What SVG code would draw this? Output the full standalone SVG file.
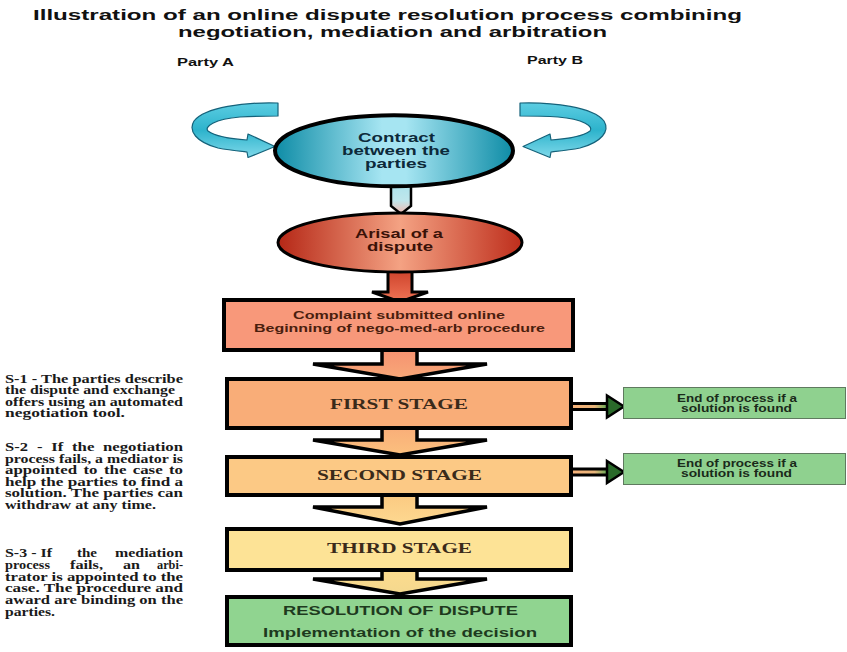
<svg xmlns="http://www.w3.org/2000/svg" width="847" height="652" viewBox="0 0 847 652">
<defs>
<style>
.title{font-family:"Liberation Sans",Arial,sans-serif;font-weight:bold;font-size:15.5px;fill:#111}
.party{font-family:"Liberation Sans",Arial,sans-serif;font-weight:bold;font-size:10.5px;fill:#111}
.sans{font-family:"Liberation Sans",Arial,sans-serif;font-weight:bold}
.serif{font-family:"Liberation Serif","Times New Roman",serif;font-weight:bold}
.note{font-family:"Liberation Serif","Times New Roman",serif;font-weight:bold;font-size:11.5px;fill:#1a1a1a}
.box{stroke:#000;stroke-width:4}
.blk{stroke:#000;stroke-width:3.5;stroke-linejoin:miter}
.endbox{fill:#8FD18F;stroke:#5f7a5f;stroke-width:1}
.curl{fill:url(#curlG);stroke:#15627a;stroke-width:1.2;stroke-linejoin:round}
</style>
<linearGradient id="contractG" x1="0" y1="0" x2="1" y2="0">
<stop offset="0" stop-color="#0E8CA6"/><stop offset="0.45" stop-color="#A6E5F2"/><stop offset="0.55" stop-color="#A6E5F2"/><stop offset="1" stop-color="#0E8CA6"/>
</linearGradient>
<linearGradient id="disputeG" x1="0" y1="0" x2="1" y2="0">
<stop offset="0" stop-color="#B52716"/><stop offset="0.5" stop-color="#F4A283"/><stop offset="1" stop-color="#BE2E1C"/>
</linearGradient>
<linearGradient id="curlG" x1="0" y1="0" x2="0" y2="1">
<stop offset="0" stop-color="#5CCDE2"/><stop offset="0.5" stop-color="#2DB3CC"/><stop offset="1" stop-color="#7FD9EA"/>
</linearGradient>
<linearGradient id="c1G" x1="0" y1="0" x2="0" y2="1">
<stop offset="0" stop-color="#A8E2EC"/><stop offset="0.6" stop-color="#BFE6EC"/><stop offset="1" stop-color="#F4B8AE"/>
</linearGradient>
<linearGradient id="c2G" x1="0" y1="0" x2="0" y2="1">
<stop offset="0" stop-color="#C83A24"/><stop offset="1" stop-color="#F07456"/>
</linearGradient>
<linearGradient id="a1G" x1="0" y1="0" x2="0" y2="1">
<stop offset="0" stop-color="#F59070"/><stop offset="1" stop-color="#F8A878"/>
</linearGradient>
<linearGradient id="a2G" x1="0" y1="0" x2="0" y2="1">
<stop offset="0" stop-color="#F9AC78"/><stop offset="1" stop-color="#FBC07E"/>
</linearGradient>
<linearGradient id="a3G" x1="0" y1="0" x2="0" y2="1">
<stop offset="0" stop-color="#FBC880"/><stop offset="1" stop-color="#FDD890"/>
</linearGradient>
<linearGradient id="a4G" x1="0" y1="0" x2="0" y2="1">
<stop offset="0" stop-color="#FDDC8E"/><stop offset="1" stop-color="#F4D88E"/>
</linearGradient>
<linearGradient id="sideG" x1="0" y1="0" x2="1" y2="0">
<stop offset="0" stop-color="#F6B27A"/><stop offset="0.6" stop-color="#E8B47A"/><stop offset="1" stop-color="#4FA84F"/>
</linearGradient>
</defs>
<rect width="847" height="652" fill="#fff"/>

<g id="title">
<text class="title" x="33" y="20" textLength="709" lengthAdjust="spacingAndGlyphs">Illustration of an online dispute resolution process combining</text>
<text class="title" x="178" y="36.5" textLength="429" lengthAdjust="spacingAndGlyphs">negotiation, mediation and arbitration</text>
</g>
<g id="partyA"><text class="party" x="177" y="66" textLength="57" lengthAdjust="spacingAndGlyphs">Party A</text></g>
<g id="partyB"><text class="party" x="527" y="64" textLength="56" lengthAdjust="spacingAndGlyphs">Party B</text></g>

<g id="connectors">
<path id="curlA" class="curl" d="M278,103 C245,102 205,107 194,121 C188,131 196,142 218,148 C228,150 238,151 247,152 L248,157.5 L275,146.5 L248,134 L247,140 C232,139 215,136 208,131 C204,127 214,119 240,117 C255,116 268,116 278,116 Z"/>
<path id="curlB" class="curl" transform="translate(798,0) scale(-1,1)" d="M278,103 C245,102 205,107 194,121 C188,131 196,142 218,148 C228,150 238,151 247,152 L248,157.5 L275,146.5 L248,134 L247,140 C232,139 215,136 208,131 C204,127 214,119 240,117 C255,116 268,116 278,116 Z"/>
<polygon points="391,180 411,180 411,206 401,214 391,206" fill="url(#c1G)" stroke="#000" stroke-width="2.5"/>
<polygon points="388,265 412,265 412,292 428,292 400,302 372,292 388,292" fill="url(#c2G)" stroke="#000" stroke-width="3"/>
<path class="blk" fill="url(#a1G)" d="M382,347 H417 V364 H487 L400,379 L313,364 H382 Z"/>
<path class="blk" fill="url(#a2G)" d="M382,425 H417 V440 H487 L400,455 L313,440 H382 Z"/>
<path class="blk" fill="url(#a3G)" d="M382,492 H417 V507 H487 L400,524 L313,507 H382 Z"/>
<path class="blk" fill="url(#a4G)" d="M382,567 H417 V579 H487 L400,594 L313,579 H382 Z"/>
<rect x="573" y="402" width="36" height="9" fill="#000"/>
<rect x="573" y="405" width="36" height="3" fill="url(#sideG)"/>
<polygon points="607,395.5 624,406.5 607,417.5" fill="#2a6a2a" stroke="#000" stroke-width="2.5" stroke-linejoin="miter"/>
<rect x="573" y="467.5" width="36" height="9" fill="#000"/>
<rect x="573" y="470.5" width="36" height="3" fill="url(#sideG)"/>
<polygon points="607,461 624,472 607,483" fill="#2a6a2a" stroke="#000" stroke-width="2.5" stroke-linejoin="miter"/>
</g>

<g id="contract">
<ellipse cx="394" cy="150.8" rx="119" ry="35.5" fill="url(#contractG)" stroke="#000" stroke-width="4"/>
<text class="sans" font-size="12.5" fill="#0d2a3a" x="358" y="142" textLength="77" lengthAdjust="spacingAndGlyphs">Contract</text>
<text class="sans" font-size="12.5" fill="#0d2a3a" x="342" y="155" textLength="108" lengthAdjust="spacingAndGlyphs">between the</text>
<text class="sans" font-size="12.5" fill="#0d2a3a" x="365" y="167.5" textLength="62" lengthAdjust="spacingAndGlyphs">parties</text>
</g>

<g id="dispute">
<ellipse cx="400" cy="242.5" rx="122" ry="29.5" fill="url(#disputeG)" stroke="#000" stroke-width="3"/>
<text class="sans" font-size="12" fill="#3a1208" x="355" y="237.5" textLength="88" lengthAdjust="spacingAndGlyphs">Arisal of a</text>
<text class="sans" font-size="12" fill="#3a1208" x="367" y="251" textLength="66" lengthAdjust="spacingAndGlyphs">dispute</text>
</g>

<g id="complaint">
<rect class="box" x="224" y="300" width="349" height="50" fill="#F8987A"/>
<text class="sans" font-size="11" fill="#4a1e0e" x="293" y="319" textLength="212" lengthAdjust="spacingAndGlyphs">Complaint submitted online</text>
<text class="sans" font-size="11" fill="#4a1e0e" x="254" y="331.5" textLength="291" lengthAdjust="spacingAndGlyphs">Beginning of nego-med-arb procedure</text>
</g>

<g id="stage1">
<rect class="box" x="227" y="379" width="344" height="49" fill="#F9AD78"/>
<text class="serif" font-size="14" fill="#3a2a1a" x="330" y="409" textLength="138" lengthAdjust="spacingAndGlyphs">FIRST STAGE</text>
</g>
<g id="stage2">
<rect class="box" x="227" y="457" width="344" height="38" fill="#FCC985"/>
<text class="serif" font-size="14" fill="#3a2a1a" x="317" y="480" textLength="165" lengthAdjust="spacingAndGlyphs">SECOND STAGE</text>
</g>
<g id="stage3">
<rect class="box" x="227" y="529" width="344" height="41" fill="#FDE396"/>
<text class="serif" font-size="14" fill="#3a2a1a" x="327" y="553" textLength="145" lengthAdjust="spacingAndGlyphs">THIRD STAGE</text>
</g>
<g id="resolution">
<rect class="box" x="227" y="597" width="344" height="48" fill="#90D490"/>
<text class="sans" font-size="12" fill="#1e3a1e" x="283" y="615" textLength="235" lengthAdjust="spacingAndGlyphs">RESOLUTION OF DISPUTE</text>
<text class="sans" font-size="12" fill="#1e3a1e" x="263" y="637" textLength="274" lengthAdjust="spacingAndGlyphs">Implementation of the decision</text>
</g>

<g id="end1">
<rect class="endbox" x="623.5" y="387.5" width="222" height="31"/>
<text class="sans" font-size="10" fill="#1a2a1a" x="677" y="402" textLength="120" lengthAdjust="spacingAndGlyphs">End of process if a</text>
<text class="sans" font-size="10" fill="#1a2a1a" x="681" y="412" textLength="111" lengthAdjust="spacingAndGlyphs">solution is found</text>
</g>
<g id="end2">
<rect class="endbox" x="623.5" y="453.5" width="222" height="31"/>
<text class="sans" font-size="10" fill="#1a2a1a" x="677" y="467" textLength="120" lengthAdjust="spacingAndGlyphs">End of process if a</text>
<text class="sans" font-size="10" fill="#1a2a1a" x="681" y="477" textLength="111" lengthAdjust="spacingAndGlyphs">solution is found</text>
</g>

<g id="note1">
<text class="note" x="5" y="383" textLength="178" lengthAdjust="spacingAndGlyphs">S-1 - The parties describe</text>
<text class="note" x="5" y="394.3" textLength="170" lengthAdjust="spacingAndGlyphs">the dispute and exchange</text>
<text class="note" x="5" y="405.7" textLength="178" lengthAdjust="spacingAndGlyphs">offers using an automated</text>
<text class="note" x="5" y="417" textLength="120" lengthAdjust="spacingAndGlyphs">negotiation tool.</text>
</g>
<g id="note2">
<text class="note" x="5" y="451" textLength="23" lengthAdjust="spacingAndGlyphs">S-2</text>
<text class="note" x="36.9" y="451" textLength="5.6" lengthAdjust="spacingAndGlyphs">-</text>
<text class="note" x="51.2" y="451" textLength="12" lengthAdjust="spacingAndGlyphs">If</text>
<text class="note" x="72" y="451" textLength="22.4" lengthAdjust="spacingAndGlyphs">the</text>
<text class="note" x="103" y="451" textLength="80" lengthAdjust="spacingAndGlyphs">negotiation</text>
<text class="note" x="5" y="462.6" textLength="178" lengthAdjust="spacingAndGlyphs">process fails, a mediator is</text>
<text class="note" x="5" y="474.2" textLength="72" lengthAdjust="spacingAndGlyphs">appointed</text>
<text class="note" x="83.4" y="474.2" textLength="14" lengthAdjust="spacingAndGlyphs">to</text>
<text class="note" x="104" y="474.2" textLength="22.4" lengthAdjust="spacingAndGlyphs">the</text>
<text class="note" x="132.7" y="474.2" textLength="30" lengthAdjust="spacingAndGlyphs">case</text>
<text class="note" x="169" y="474.2" textLength="14" lengthAdjust="spacingAndGlyphs">to</text>
<text class="note" x="5" y="485.8" textLength="178" lengthAdjust="spacingAndGlyphs">help the parties to find a</text>
<text class="note" x="5" y="497.4" textLength="178" lengthAdjust="spacingAndGlyphs">solution. The parties can</text>
<text class="note" x="5" y="509" textLength="151" lengthAdjust="spacingAndGlyphs">withdraw at any time.</text>
</g>
<g id="note3">
<text class="note" x="5" y="557" textLength="47" lengthAdjust="spacingAndGlyphs">S-3 - If</text>
<text class="note" x="77" y="557" textLength="20" lengthAdjust="spacingAndGlyphs">the</text>
<text class="note" x="115" y="557" textLength="68" lengthAdjust="spacingAndGlyphs">mediation</text>
<text class="note" x="5" y="568.8" textLength="45" lengthAdjust="spacingAndGlyphs">process</text>
<text class="note" x="70" y="568.8" textLength="33" lengthAdjust="spacingAndGlyphs">fails,</text>
<text class="note" x="123" y="568.8" textLength="17" lengthAdjust="spacingAndGlyphs">an</text>
<text class="note" x="157" y="568.8" textLength="26" lengthAdjust="spacingAndGlyphs">arbi-</text>
<text class="note" x="5" y="580.6" textLength="178" lengthAdjust="spacingAndGlyphs">trator is appointed to the</text>
<text class="note" x="5" y="592.4" textLength="178" lengthAdjust="spacingAndGlyphs">case. The procedure and</text>
<text class="note" x="5" y="604.2" textLength="178" lengthAdjust="spacingAndGlyphs">award are binding on the</text>
<text class="note" x="5" y="616" textLength="50" lengthAdjust="spacingAndGlyphs">parties.</text>
</g>
</svg>
